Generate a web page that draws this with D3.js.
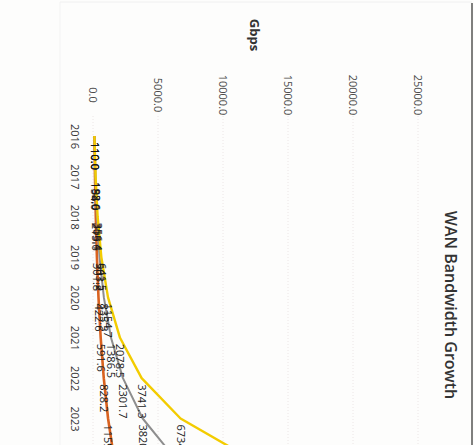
<!DOCTYPE html>
<html>
<head>
<meta charset="utf-8">
<script src="https://cdnjs.cloudflare.com/ajax/libs/d3/7.8.5/d3.min.js"></script>
<style>
  body { margin: 0; background: #fff; }
  svg { display: block; }
</style>
</head>
<body>
<div id="chart"></div>
<script>
// chart values (page is scanned sideways, so the whole chart is turned 90deg)
const years = [2016, 2017, 2018, 2019, 2020, 2021, 2022, 2023, 2024];
const lowGrowth = [110.0, 154.0, 215.6, 301.8, 422.6, 591.6, 828.2, 1159.5, 1623.3];
const midGrowth = [110.0, 182.6, 303.1, 503.2, 835.3, 1386.5, 2301.7, 3820.8, 6342.6];
const highGrowth = [110.0, 198.0, 356.4, 641.5, 1154.7, 2078.5, 3741.3, 6734.4, 12121.9];
const valueTicks = [0, 5000, 10000, 15000, 20000, 25000];

const seriesList = [
  {name: 'low', values: lowGrowth, color: '#d9621f', width: 2.6},
  {name: 'mid', values: midGrowth, color: '#8e8e8e', width: 2},
  {name: 'high', values: highGrowth, color: '#f3cc00', width: 2.4}
];

const width = 474;
const height = 445;
const font = '"Open Sans", "Liberation Sans", sans-serif';

const svg = d3.select('#chart')
  .append('svg')
  .attr('width', width)
  .attr('height', height);

svg.append('rect')
  .attr('width', width)
  .attr('height', height)
  .attr('fill', '#fdfdfc');

// u = down the page, v = right-to-left across the page
const g = svg.append('g')
  .attr('transform', 'translate(480,0) rotate(90)');

const x = d3.scaleLinear()
  .domain([2016, 2023])
  .range([136, 418.5]);

const y = d3.scaleLinear()
  .domain([0, 25000])
  .range([387, 62]);

// frame of the chart
g.append('line')
  .attr('x1', 2).attr('x2', 460)
  .attr('y1', 420).attr('y2', 420)
  .attr('stroke', '#f3f3f3');
g.append('line')
  .attr('x1', 2).attr('x2', 2)
  .attr('y1', 8).attr('y2', 420)
  .attr('stroke', '#f0f0f0');
g.append('line')
  .attr('x1', 3).attr('x2', 460)
  .attr('y1', 8).attr('y2', 8)
  .attr('stroke', '#555')
  .attr('stroke-width', 1.5);

// gridlines
g.append('g')
  .selectAll('line')
  .data(valueTicks)
  .join('line')
    .attr('x1', 116)
    .attr('x2', 460)
    .attr('y1', d => y(d))
    .attr('y2', d => y(d))
    .attr('stroke', '#ece6e6')
    .attr('stroke-dasharray', '1,2');

// value axis
const yAxis = g.append('g')
  .attr('transform', 'translate(95,0)')
  .call(d3.axisLeft(y).tickValues(valueTicks).tickFormat(d3.format('.1f')).tickSize(0));
yAxis.select('.domain').remove();
yAxis.selectAll('text')
  .attr('x', 0)
  .attr('text-anchor', 'middle')
  .attr('font-family', font)
  .attr('font-size', 11)
  .attr('fill', '#4a4a4a');

// year axis
const xAxis = g.append('g')
  .attr('transform', 'translate(0,405)')
  .call(d3.axisBottom(x).tickValues(years.slice(0, 8)).tickFormat(d3.format('d')).tickSize(0));
xAxis.select('.domain').remove();
xAxis.selectAll('text')
  .attr('y', 0)
  .attr('dy', '0.35em')
  .attr('font-family', font)
  .attr('font-size', 11)
  .attr('fill', '#333');

// titles
g.append('text')
  .attr('x', 305)
  .attr('y', 29)
  .attr('dy', '0.35em')
  .attr('text-anchor', 'middle')
  .attr('font-family', font)
  .attr('font-size', 16)
  .attr('font-weight', 600)
  .attr('fill', '#333')
  .text('WAN Bandwidth Growth');

g.append('text')
  .attr('x', 35)
  .attr('y', 225)
  .attr('dy', '0.35em')
  .attr('text-anchor', 'middle')
  .attr('font-family', font)
  .attr('font-size', 13)
  .attr('font-weight', 700)
  .attr('fill', '#333')
  .text('Gbps');

// lines
const line = d3.line()
  .x((d, i) => x(years[i]))
  .y(d => y(d));

g.append('g')
  .selectAll('path')
  .data(seriesList)
  .join('path')
    .attr('d', d => line(d.values))
    .attr('fill', 'none')
    .attr('stroke', d => d.color)
    .attr('stroke-width', d => d.width)
    .attr('stroke-linejoin', 'round');

// data labels, to the right of each point
seriesList.forEach(s => {
  g.append('g')
    .selectAll('text')
    .data(s.values)
    .join('text')
      .attr('x', (d, i) => x(years[i]) + 6)
      .attr('y', d => y(d))
      .attr('dy', '0.35em')
      .attr('font-family', font)
      .attr('font-size', 11)
      .attr('fill', '#1a1a1a')
      .text(d => d3.format('.1f')(d));
});
</script>
</body>
</html>
